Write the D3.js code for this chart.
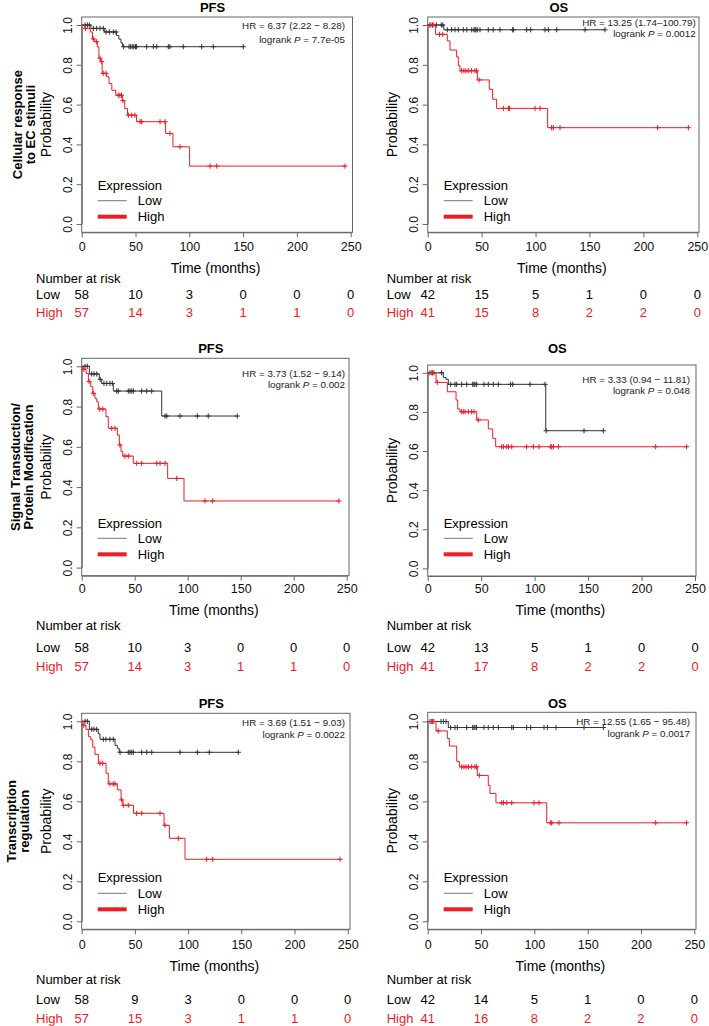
<!DOCTYPE html>
<html><head><meta charset="utf-8">
<script src="https://cdn.jsdelivr.net/npm/d3@7"></script>
<style>
body{margin:0;background:#fff;}
svg{display:block;font-family:"Liberation Sans",Arial,Helvetica,sans-serif;}
</style></head><body>
<svg id="c" width="709" height="1026"></svg>
<script>
// ---------------- DATA ----------------
const xTicks = [0, 50, 100, 150, 200, 250];
const yTicks = [0, 0.2, 0.4, 0.6, 0.8, 1.0];
const rowLabels = [["Cellular response", "to EC stimuli"], ["Signal Transduction/", "Protein Modification"], ["Transcription", "regulation"]];
const panelTitles = ["PFS", "OS", "PFS", "OS", "PFS", "OS"];
const hrLabels = ["HR = 6.37 (2.22 \u2212 8.28)", "HR = 13.25 (1.74\u2013100.79)", "HR = 3.73 (1.52 \u2212 9.14)", "HR = 3.33 (0.94 \u2212 11.81)", "HR = 3.69 (1.51 \u2212 9.03)", "HR = 12.55 (1.65 \u2212 95.48)"];
const pValues = ["7.7e-05", "0.0012", "0.002", "0.048", "0.0022", "0.0017"];
const groupNames = ["Low", "High"];
const riskLow = [[58,10,3,0,0,0],[42,15,5,1,0,0],[58,10,3,0,0,0],[42,13,5,1,0,0],[58,9,3,0,0,0],[42,14,5,1,0,0]];
const riskHigh = [[57,14,3,1,1,0],[41,15,8,2,2,0],[57,14,3,1,1,0],[41,17,8,2,2,0],[57,15,3,1,1,0],[41,16,8,2,2,0]];

// Row 1 PFS
const p1LowSteps = [[0,1],[8.5,0.983],[21,0.965],[32.5,0.947],[34.5,0.929],[36.5,0.91],[38,0.891]];
const p1LowCens = [3.1,5.3,7.1,10.8,13.9,17,20.1,22.6,25.7,29.4,31.9,39,44,45.5,47,48.5,50,51,60.4,66.6,69.7,80.5,82,94.4,111.5,122.3,150.2];
const p1HighSteps = [[0,1],[3,0.983],[8,0.965],[10,0.93],[12,0.916],[14.5,0.89],[16,0.833],[17.6,0.816],[19,0.757],[23.2,0.74],[25.4,0.706],[28,0.672],[31.7,0.647],[37.8,0.62],[40,0.58],[42.6,0.547],[51,0.514],[78,0.455],[84.8,0.388],[100.3,0.291]];
const p1HighCens = [3.5,10.8,13.9,17,18.6,20,22.6,34,35.5,37,38.3,43.4,46.5,49.5,54.2,55.7,72.8,77.4,82,91.4,119.3,125.5,244.7];
// Row 1 OS
const p2LowSteps = [[0,1],[15,0.976]];
const p2LowCens = [2,4.5,8,12.6,14,18.2,22.2,25.3,28.4,33,36.2,40.8,42.9,43.9,44.8,46,48.5,56.2,60.8,67,78.8,79.4,91.8,95.5,108.8,111.9,119.6,145.9,164.4];
const p2HighSteps = [[0,1],[7.3,0.953],[18.2,0.92],[20.7,0.874],[26.8,0.84],[28.4,0.795],[30,0.77],[46,0.724],[57.1,0.677],[60.2,0.627],[63.9,0.581],[111.2,0.484]];
const p2HighCens = [3,5,10.9,13.9,31.5,33.6,35.4,37.6,40.7,43.8,45.3,47.7,70.2,74.8,75.8,99.5,104.2,114.9,116.5,122.7,213.2,241.7];
// Row 2 PFS
const p3LowSteps = [[0,1],[7.2,0.962],[16.6,0.935],[18.9,0.915],[29.8,0.877],[75.5,0.753]];
const p3LowCens = [3.1,5.3,9.4,11.6,14.2,17.5,21,23.6,26.7,28.9,33,34.6,44,45.6,47.2,48.7,56.6,61.3,66,78.6,80.2,92.7,109.1,119.4,146.8];
const p3HighSteps = [[0,1],[1,0.985],[4.1,0.965],[6.3,0.924],[8.5,0.899],[10.4,0.866],[12.5,0.841],[14.2,0.824],[15.7,0.788],[22.9,0.75],[25.1,0.692],[33.6,0.659],[35.5,0.609],[37.1,0.576],[38.7,0.554],[48.7,0.518],[81.1,0.443],[96.5,0.331]];
const p3HighCens = [2,7,11,17,20,28.3,31.4,36,40.8,44,51.9,56.6,70.8,73.9,78.6,89.6,116.3,123.5,242.7];
// Row 2 OS
const p4LowSteps = [[0,1],[14.6,0.976],[17.1,0.967],[19.3,0.941],[110.4,0.704]];
const p4LowCens = [2.1,4.6,13,21.5,25.5,27.1,31.8,36.5,42.1,43.3,44.2,45.8,52.7,56.7,61.4,66,77.6,79.5,95.7,109.7,110.8,146.2,164.3];
const p4HighSteps = [[0,1],[7.8,0.951],[18.4,0.903],[26.5,0.861],[28.1,0.815],[30.2,0.801],[45.8,0.759],[56.7,0.713],[60.8,0.665],[63.6,0.622]];
const p4HighCens = [3.7,5.9,9,31.8,33.3,34.9,38,41.1,43.3,47.3,69.2,70.8,73.9,75.5,78.6,92.6,98.8,104.1,115,116,117.5,122.2,213.2,242.2];
// Row 3 PFS
const p5LowSteps = [[0,1],[7.2,0.96],[15.6,0.937],[17.2,0.91],[31.3,0.88],[33.5,0.865],[35.3,0.845]];
const p5LowCens = [3.1,5.3,9.4,11.5,14,20.3,22.8,26.5,29.7,36,43.8,45.4,47,48.5,56.4,61.1,65.8,92.3,108.7,119.9,147.2];
const p5HighSteps = [[0,1],[1,0.98],[4,0.96],[6.3,0.923],[8.5,0.907],[10.4,0.87],[12.5,0.835],[15.7,0.79],[22.9,0.74],[25,0.687],[33.5,0.657],[37,0.607],[38.7,0.58],[48.7,0.54],[77.4,0.48],[82.4,0.415],[97.1,0.31]];
const p5HighCens = [2,17.2,19.7,26.5,29.7,31.3,37.5,39.1,43.8,51.6,56.4,73.6,78.3,90.8,117.4,123.1,242.8];
// Row 3 OS
const p6LowSteps = [[0,1],[19.3,0.97]];
const p6LowCens = [2.2,4.7,12.5,14.7,17.2,21.5,25.6,27.8,36.6,42.2,43.4,44.4,45.9,52.8,56.8,61.5,66.2,78.8,80.3,92.8,96.6,109.1,112.2,120.3,146.6,164.7];
const p6HighSteps = [[0,1],[7.8,0.953],[18.4,0.915],[20.3,0.877],[27.2,0.8],[29.7,0.773],[46.5,0.73],[56.8,0.68],[58.4,0.64],[64,0.593],[111.6,0.493]];
const p6HighCens = [3.7,5.9,9.9,31.9,34,36,38.1,41.2,44.3,45.9,48.4,69.4,71,74.1,78.8,99.7,104.4,115.3,116.3,123.1,213.8,242.8];

const curveSets = [
  [[p1LowSteps,p1LowCens],[p1HighSteps,p1HighCens]],
  [[p2LowSteps,p2LowCens],[p2HighSteps,p2HighCens]],
  [[p3LowSteps,p3LowCens],[p3HighSteps,p3HighCens]],
  [[p4LowSteps,p4LowCens],[p4HighSteps,p4HighCens]],
  [[p5LowSteps,p5LowCens],[p5HighSteps,p5HighCens]],
  [[p6LowSteps,p6LowCens],[p6HighSteps,p6HighCens]]
];

// ---------------- LAYOUT ----------------
const FONT = '"Liberation Sans",Arial,Helvetica,sans-serif';
const RED = "#ee1c24", DARK = "#333", BOX = "#666";
const panelGeom = [
  {x0:81.7,x250:350.7,right:352.5,y1:25,y0:224,top:17,bottom:232.3,hr:[26,39.3],hrRight:345},
  {x0:427.7,x250:697.3,right:699,y1:25,y0:224,top:17,bottom:232.3,hr:[22.7,33.3],hrRight:695.7},
  {x0:81.7,x250:346.7,right:349,y1:366.3,y0:567.6,top:358.3,bottom:575.7,hr:[373.3,385],hrRight:345},
  {x0:427.7,x250:695,right:696,y1:372.8,y0:568.4,top:365,bottom:576,hr:[379.3,391],hrRight:690},
  {x0:81.7,x250:347.7,right:350,y1:721.3,y0:921.3,top:713.3,bottom:929.3,hr:[722.3,735],hrRight:345},
  {x0:427.7,x250:694.3,right:696,y1:721.5,y0:921.3,top:712.3,bottom:929.3,hr:[721.7,733.3],hrRight:690}
];
const rowGeom = [
  {title:7.3, xlab:247, tlab:268, nar:278.3, low:294, high:312.8, leg:[185,200.7,216.7], lab:[17,30]},
  {title:348.3, xlab:589, tlab:610, nar:625, low:647.3, high:666, leg:[523.3,538.3,554.3], lab:[15,28]},
  {title:703.3, xlab:944.3, tlab:965.7, nar:979.3, low:999.3, high:1018.3, leg:[877.3,893.3,909.3], lab:[11,24]}
];
const narX = [36, 386.7];

// ---------------- DRAW ----------------
const svg = d3.select("#c");
svg.append("rect").attr("width",709).attr("height",1026).attr("fill","#fff");

function sAt(steps, t){ let s = 1; for (const [tt,v] of steps){ if (tt <= t) s = v; else break; } return s; }

panelGeom.forEach((g, i) => {
  const row = Math.floor(i/2), col = i % 2, R = rowGeom[row];
  const x = d3.scaleLinear().domain([0,250]).range([g.x0, g.x250]);
  const y = d3.scaleLinear().domain([0,1]).range([g.y0, g.y1]);
  const gp = svg.append("g");

  // box
  gp.append("rect").attr("x",g.x0).attr("y",g.top).attr("width",g.right-g.x0).attr("height",g.bottom-g.top)
    .attr("fill","none").attr("stroke",BOX).attr("stroke-width",1);

  // x axis
  const xa = gp.append("g").attr("transform",`translate(0,${g.bottom})`)
    .call(d3.axisBottom(x).tickValues(xTicks).tickSize(5).tickSizeOuter(0));
  xa.attr("font-family",FONT).attr("font-size",12.5);
  xa.select(".domain").attr("stroke",BOX);
  xa.selectAll(".tick line").attr("stroke",BOX);
  xa.selectAll(".tick text").attr("y",R.xlab-g.bottom).attr("dy",".35em").attr("fill","#111");

  // y axis
  const ya = gp.append("g").attr("transform",`translate(${g.x0},0)`)
    .call(d3.axisLeft(y).tickValues(yTicks).tickSize(5).tickSizeOuter(0).tickFormat(d3.format(".1f")));
  ya.attr("font-family",FONT).attr("font-size",12);
  ya.select(".domain").attr("stroke",BOX);
  ya.selectAll(".tick line").attr("stroke",BOX);
  ya.selectAll(".tick text").attr("x",null).attr("dy",".35em").attr("text-anchor","middle")
    .attr("transform","translate(-13.5,0) rotate(-90)").attr("fill","#111");

  // title
  gp.append("text").attr("x",(g.x0+g.right)/2-4.5).attr("y",R.title).attr("dy",".35em")
    .attr("text-anchor","middle").attr("font-weight","bold").attr("font-size",13).text(panelTitles[i]);

  // y label
  gp.append("text").attr("transform",`translate(${g.x0-36},${(g.top+g.bottom)/2}) rotate(-90)`)
    .attr("dy",".35em").attr("text-anchor","middle").attr("font-size",14).text("Probability");

  // x label
  gp.append("text").attr("x",(g.x0+g.right)/2-1.5).attr("y",R.tlab).attr("dy",".35em")
    .attr("text-anchor","middle").attr("font-size",14).text("Time (months)");

  // HR text
  gp.append("text").attr("x",g.hrRight).attr("y",g.hr[0]).attr("dy",".35em").attr("text-anchor","end")
    .attr("font-size",9.8).attr("fill","#222").text(hrLabels[i]);
  const pt = gp.append("text").attr("x",g.hrRight).attr("y",g.hr[1]).attr("dy",".35em").attr("text-anchor","end")
    .attr("font-size",9.8).attr("fill","#222");
  pt.append("tspan").text("logrank ");
  pt.append("tspan").attr("font-style","italic").text("P");
  pt.append("tspan").text(" = " + pValues[i]);

  // curves
  const line = d3.line().x(d => x(d[0])).y(d => y(d[1])).curve(d3.curveStepAfter);
  curveSets[i].forEach(([steps, cens], k) => {
    const color = k === 0 ? DARK : RED;
    const end = Math.max(d3.max(cens), steps[steps.length-1][0]);
    const pts = steps.concat([[end, steps[steps.length-1][1]]]);
    gp.append("path").attr("d", line(pts)).attr("fill","none").attr("stroke",color).attr("stroke-width",1);
    gp.append("g").selectAll("path").data(cens).join("path")
      .attr("d", t => { const px = x(t), py = y(sAt(steps,t)); return `M${px-2.6},${py}H${px+2.6}M${px},${py-2.6}V${py+2.6}`; })
      .attr("stroke",color).attr("stroke-width",1).attr("fill","none");
  });

  // legend
  const lx = g.x0 + 16;
  gp.append("text").attr("x",lx).attr("y",R.leg[0]).attr("dy",".35em").attr("font-size",13).text("Expression");
  gp.append("line").attr("x1",lx).attr("x2",lx+29).attr("y1",R.leg[1]).attr("y2",R.leg[1]).attr("stroke","#777").attr("stroke-width",1);
  gp.append("text").attr("x",lx+40).attr("y",R.leg[1]).attr("dy",".35em").attr("font-size",13).text(groupNames[0]);
  gp.append("line").attr("x1",lx).attr("x2",lx+29).attr("y1",R.leg[2]).attr("y2",R.leg[2]).attr("stroke",RED).attr("stroke-width",4);
  gp.append("text").attr("x",lx+40).attr("y",R.leg[2]).attr("dy",".35em").attr("font-size",13).text(groupNames[1]);

  // number at risk
  const nx = narX[col];
  gp.append("text").attr("x",nx).attr("y",R.nar).attr("dy",".35em").attr("font-size",13).text("Number at risk");
  gp.append("text").attr("x",nx).attr("y",R.low).attr("dy",".35em").attr("font-size",13).text(groupNames[0]);
  gp.append("text").attr("x",nx).attr("y",R.high).attr("dy",".35em").attr("font-size",13).attr("fill",RED).text(groupNames[1]);
  gp.append("g").selectAll("text").data(riskLow[i]).join("text")
    .attr("x",(d,j) => x(xTicks[j])).attr("y",R.low).attr("dy",".35em").attr("text-anchor","middle").attr("font-size",13).text(d => d);
  gp.append("g").selectAll("text").data(riskHigh[i]).join("text")
    .attr("x",(d,j) => x(xTicks[j])).attr("y",R.high).attr("dy",".35em").attr("text-anchor","middle").attr("font-size",13).attr("fill",RED).text(d => d);
});

// row labels
rowGeom.forEach((R, r) => {
  const g = panelGeom[r*2];
  const cy = (g.top + g.bottom)/2;
  rowLabels[r].forEach((s, k) => {
    svg.append("text").attr("transform",`translate(${R.lab[k]},${cy}) rotate(-90)`).attr("dy",".35em")
      .attr("text-anchor","middle").attr("font-weight","bold").attr("font-size",13).text(s);
  });
});
</script>
</body></html>
